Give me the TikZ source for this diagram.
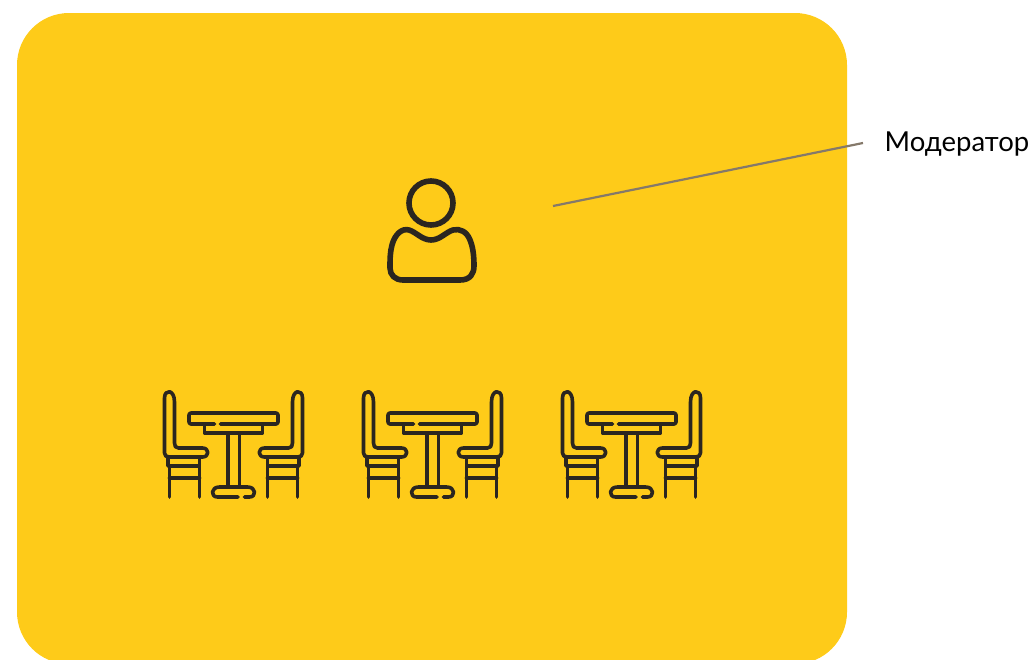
\documentclass[tikz,border=0pt]{standalone}
\usepackage{fontspec}
\setmainfont{Lato}
\definecolor{panelyellow}{HTML}{FECB19}
\definecolor{iconink}{HTML}{2B2620}
\definecolor{leadgray}{HTML}{85796A}
\tikzset{
    icon/.style={draw=iconink, line width=3.6pt, line join=round, line cap=round},
    lead/.style={draw=leadgray, line width=2.2pt},
    chair/.pic={
        \draw [icon] (-69,73) -- (-69,18) .. controls (-69,9) and (-59,9) .. (-59,22) -- (-59,63)
            .. controls (-59,66) and (-58,68) .. (-55,68) -- (-31,68)
            .. controls (-24,68) and (-24,77) .. (-31,77) -- (-64,77)
            .. controls (-67,77) and (-69,76) .. (-69,73);
        \draw [icon] (-65.5,77) -- (-65.5,86) -- (-34,86) -- (-34,77);
        \draw [icon] (-64,86) -- (-64,117);
        \draw [icon] (-34,86) -- (-34,117);
        \draw [icon] (-64,98) -- (-34,98);
    },
    dining/.pic={
        % Sillas
        \pic {chair};
        \pic [xscale=-1] {chair};
        % Mesa
        \draw [icon, rounded corners=2pt] (-19,44) -- (-44.5,44) -- (-44.5,33) -- (44.5,33) -- (44.5,44) -- (-13,44);
        \draw [icon] (-29,44) -- (-29,53) -- (29,53) -- (29,44);
        \draw [icon] (-5.5,53) -- (-5.5,107);
        \draw [icon] (6,53) -- (6,107);
        \draw [icon] (4.5,117) -- (-16,117) .. controls (-23,117) and (-23,107) .. (-14,107) -- (14,107)
            .. controls (23,107) and (23,117) .. (16,117) -- (11,117);
    }
}
\begin{document}
\begin{tikzpicture}[x=1pt, y=-1pt]
\useasboundingbox (0,0) rectangle (1032,659);

% Fondo
\begin{scope}
    \clip (0,0) rectangle (1032,659);
    \fill [panelyellow, rounded corners=52pt] (17,13) rectangle (847,664);
\end{scope}

% Moderador
\draw [icon, line width=5.6pt] (431,203) circle (22pt);
\draw [icon, line width=5.6pt] (403,280) -- (460,280) .. controls (470,280) and (474,274) .. (474,266)
    .. controls (474,256) and (473,247) .. (470,240) .. controls (467,232) and (460,228) .. (453,230)
    .. controls (446,232) and (440,240) .. (431,240) .. controls (422,240) and (416,232) .. (409,230)
    .. controls (402,228) and (395,234) .. (392,245) .. controls (390,252) and (390,260) .. (390,268)
    .. controls (390,275) and (395,280) .. (403,280);

% Mesas
\pic at (233.5,380) {dining};
\pic at (432.5,380) {dining};
\pic at (631.5,380) {dining};

% Etiqueta
\node [anchor=west, inner sep=0pt, font=\fontsize{27.5}{32}\selectfont] (moderator) at (884.5,144.5) {Модератор};
\coordinate (leadstart) at (553,206);
\coordinate (leadend) at (863,143);
\draw [lead] (leadstart) -- (leadend);
\end{tikzpicture}
\end{document}
